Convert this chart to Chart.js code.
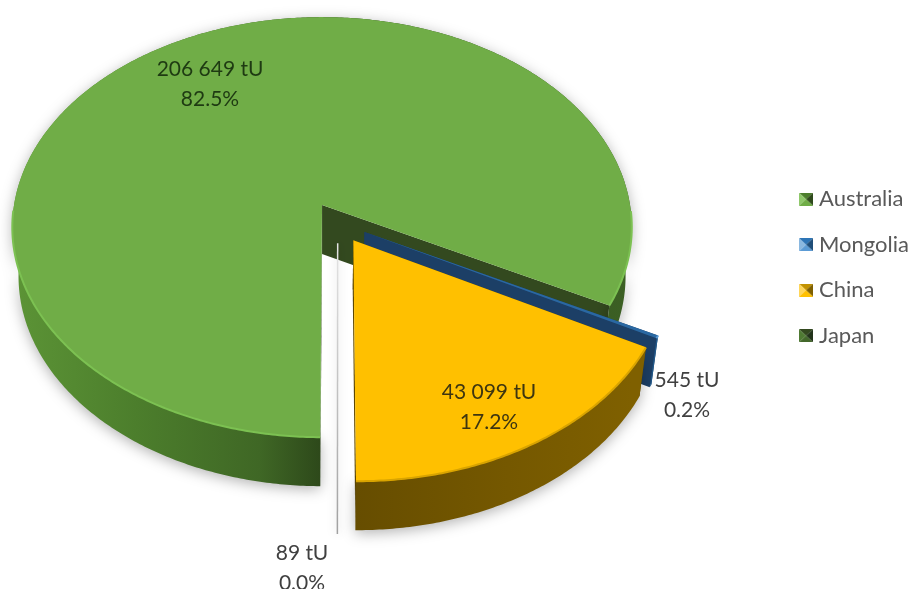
<!DOCTYPE html>
<html>
<head>
<meta charset="utf-8">
<title>Uranium resources</title>
<script src="https://cdn.jsdelivr.net/npm/chart.js@4"></script>
<style>
    html, body { margin: 0; padding: 0; background: #fff; }
    canvas { display: block; filter: blur(0.5px); }
</style>
</head>
<body>
<canvas id="myChartPie" width="911" height="589"></canvas>
<script>
const categories = ['Australia', 'Mongolia', 'China', 'Japan'];
const tonnesU = [206649, 545, 43099, 89];

const topColors = ['#70ad47', '#2a68a2', '#ffc000', '#d8d8d8'];
const sideColors = ['#33491f', '#1c3f66', '#5f4800', '#d8d8d8'];
const rimStops = [
    [[0, '#5c9436'], [0.2, '#4c7e2c'], [0.4, '#3f6725'], [0.5, '#2d481a'], [1, '#3c6024']],
    [[0, '#215a8c'], [1, '#215a8c']],
    [[0.55, '#664d00'], [0.8, '#755800'], [1, '#7f6000']],
    [[0, '#a8a8a8'], [1, '#a8a8a8']],
];
const rimLights = ['#7cc152', '#5b9bd5', '#d9a400', '#999999'];
const legendColors = [
    ['#70ad47', '#4c7e2c', '#2f4a1c', '#8fc86a'],
    ['#5b9bd5', '#2e75b6', '#1f4e79', '#8ab8e0'],
    ['#ffc000', '#c29200', '#7f6000', '#ffd659'],
    ['#43682b', '#33491f', '#22331a', '#4f7a33'],
];
const labelInk = ['#1e3a12', '#404040', '#3d3510', '#404040'];
const labelSpots = [[210, 69], [687, 380], [489, 392], [302, 553]];

const pieRadius = 200;
const pieOffset = 19.4;
const depth = 49;
// perspective of the plate, in the frame of the Australia slice
const view = { x: 322, y: 205, ax: 308, ay: 207.7, g: -0.105, du: 0.0503, dv: 0.0835, floor: 0.98 };

function project(u, v) {
    const a = u + view.du;
    const b = v + view.dv;
    const w = 1 + view.g * b;
    return [view.x + view.ax * a / w, view.y + view.ay * b / w];
}

function slicePoints(arc) {
    const mid = (arc.startAngle + arc.endAngle) / 2;
    const off = (arc.options.offset || 0) / arc.outerRadius;
    const ou = Math.cos(mid) * off;
    const ov = Math.sin(mid) * off;
    const rim = [];
    const steps = Math.max(2, Math.ceil((arc.endAngle - arc.startAngle) / 0.01));
    for (let i = 0; i <= steps; i++) {
        const a = arc.startAngle + (arc.endAngle - arc.startAngle) * i / steps;
        rim.push({ p: project(ou + Math.cos(a), ov + Math.sin(a)), a: a });
    }
    return { apex: project(ou, ov), rim: rim };
}

function poly(ctx, pts) {
    ctx.beginPath();
    pts.forEach((p, i) => (i ? ctx.lineTo(p[0], p[1]) : ctx.moveTo(p[0], p[1])));
    ctx.closePath();
}

function down(p) {
    return [view.x + (p[0] - view.x) * view.floor, p[1] + depth];
}

function drawJapan(ctx, apex, last) {
    const foot = down(last);
    const grad = ctx.createLinearGradient(0, apex[1], 0, foot[1]);
    grad.addColorStop(0, '#e4e4e4');
    grad.addColorStop(1, '#a0a0a0');
    ctx.save();
    ctx.shadowColor = 'rgba(0,0,0,0.22)';
    ctx.shadowBlur = 10;
    ctx.strokeStyle = grad;
    ctx.lineWidth = 1.5;
    ctx.beginPath();
    ctx.moveTo(apex[0], apex[1]);
    ctx.lineTo(foot[0], foot[1]);
    ctx.stroke();
    ctx.restore();
}

function drawSlice(ctx, arc, index) {
    const { apex, rim } = slicePoints(arc);
    const edge = rim.map((r) => r.p);
    const first = edge[0];
    const last = edge[edge.length - 1];

    if (index === 3) {
        drawJapan(ctx, apex, last);
        return;
    }

    const grad = ctx.createLinearGradient(12, 0, 632, 0);
    rimStops[index].forEach((s) => grad.addColorStop(s[0], s[1]));

    // cut walls
    ctx.fillStyle = sideColors[index];
    poly(ctx, [apex, first, down(first), down(apex)]);
    ctx.fill();
    poly(ctx, [apex, last, down(last), down(apex)]);
    ctx.fill();

    // outer wall with a soft shadow on the page
    ctx.save();
    if (index === 0 || index === 2) {
        ctx.shadowColor = 'rgba(0,0,0,0.3)';
        ctx.shadowBlur = 14;
        ctx.shadowOffsetY = 3;
    }
    ctx.fillStyle = grad;
    poly(ctx, edge.concat(edge.map(down).reverse()));
    ctx.fill();
    ctx.restore();

    // top face
    ctx.fillStyle = topColors[index];
    poly(ctx, [apex].concat(edge));
    ctx.fill();

    // lit bevel along the front of the rim
    ctx.strokeStyle = rimLights[index];
    ctx.lineWidth = 2;
    ctx.beginPath();
    let open = false;
    rim.forEach((r) => {
        if (Math.sin(r.a) > 0.02) {
            open ? ctx.lineTo(r.p[0], r.p[1]) : ctx.moveTo(r.p[0], r.p[1]);
            open = true;
        } else {
            open = false;
        }
    });
    ctx.stroke();
}

function spacedThousands(n) {
    return String(n).replace(/\B(?=(\d{3})+$)/g, ' ');
}

function legendIcon(colors) {
    const c = document.createElement('canvas');
    c.width = 14;
    c.height = 13;
    const g = c.getContext('2d');
    const tri = (col, pts) => {
        g.fillStyle = col;
        poly(g, pts);
        g.fill();
    };
    tri(colors[1], [[0, 0], [14, 0], [7, 6.5]]);
    tri(colors[3], [[0, 0], [7, 6.5], [0, 13]]);
    tri(colors[2], [[14, 0], [14, 13], [7, 6.5]]);
    tri(colors[0], [[0, 13], [14, 13], [7, 6.5]]);
    return c;
}

const pie3d = {
    id: 'pie3d',
    beforeDatasetDraw(chart, args) {
        const arcs = chart.getDatasetMeta(args.index).data;
        const ctx = chart.ctx;
        ctx.save();
        [0, 3, 1, 2].forEach((i) => drawSlice(ctx, arcs[i], i));
        ctx.restore();
        return false;
    },
    afterDatasetsDraw(chart) {
        const ctx = chart.ctx;
        const total = tonnesU.reduce((a, b) => a + b, 0);
        ctx.save();
        ctx.font = '21px Lato';
        ctx.textAlign = 'center';
        ctx.textBaseline = 'middle';
        tonnesU.forEach((v, i) => {
            ctx.fillStyle = labelInk[i];
            ctx.fillText(spacedThousands(v) + ' tU', labelSpots[i][0], labelSpots[i][1]);
            ctx.fillText((v * 100 / total).toFixed(1) + '%', labelSpots[i][0], labelSpots[i][1] + 30);
        });
        ctx.restore();
    },
};

new Chart(document.getElementById('myChartPie').getContext('2d'), {
    type: 'pie',
    data: {
        labels: categories,
        datasets: [{
            data: tonnesU,
            backgroundColor: legendColors.map((c) => c[0]),
            borderWidth: 0,
            offset: pieOffset,
        }],
    },
    options: {
        responsive: false,
        animation: false,
        rotation: 180.3,
        radius: pieRadius,
        layout: { padding: { bottom: 54, right: -8 } },
        plugins: {
            tooltip: { enabled: false },
            legend: {
                position: 'right',
                labels: {
                    usePointStyle: true,
                    pointStyleWidth: 4,
                    font: { family: 'Lato', size: 22 },
                    color: '#595959',
                    padding: 23.5,
                    generateLabels: () => categories.map((name, i) => ({
                        text: name,
                        pointStyle: legendIcon(legendColors[i]),
                        fontColor: '#595959',
                        lineWidth: 0,
                        hidden: false,
                        index: i,
                    })),
                },
            },
        },
    },
    plugins: [pie3d],
});
</script>
</body>
</html>
